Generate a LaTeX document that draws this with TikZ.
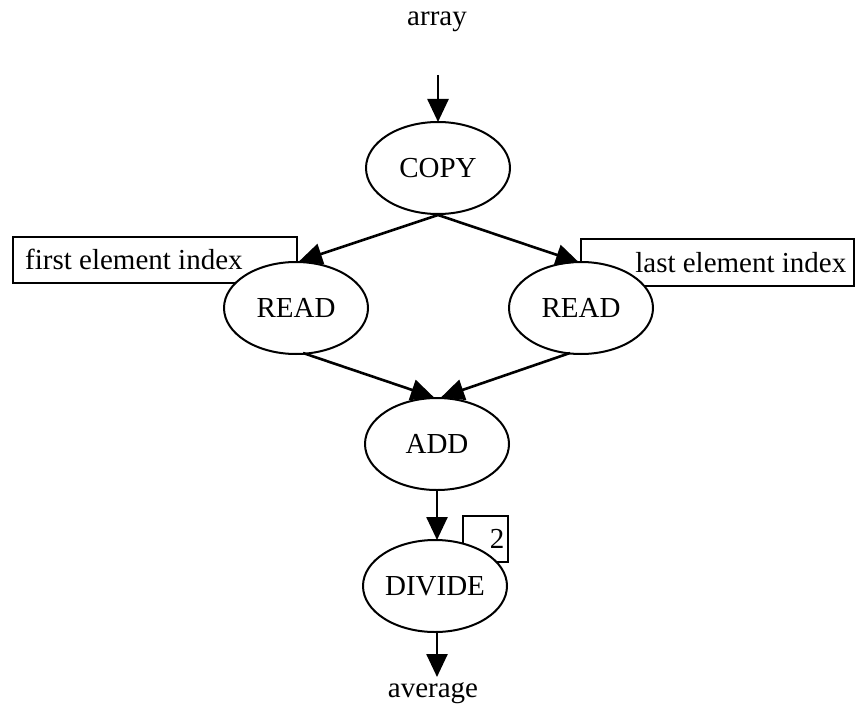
\documentclass[tikz,border=0pt]{standalone}
\usepackage{fontspec}
\setmainfont{Liberation Serif}
\usetikzlibrary{shapes.geometric,arrows.meta,calc}
\begin{document}
\begin{tikzpicture}[x=1pt,y=-1pt,
  every node/.style={font=\fontsize{29}{34}\selectfont},
  proc/.style={ellipse, draw, line width=2pt, fill=white, minimum width=144pt, minimum height=92pt, inner sep=0pt},
  inbox/.style={draw, line width=1.5pt, inner sep=0pt, anchor=north west},
  flow/.style={line width=2.6pt, -{Triangle[length=23pt,width=21pt]}, shorten >=-1pt},
  lbl/.style={inner sep=0pt}
]
\useasboundingbox (0,0) rectangle (856,714);
% constant boxes (behind the ellipses)
\node[inbox, minimum width=284pt, minimum height=46pt] (fbox) at (12,236) {};
\node[inbox, minimum width=273pt, minimum height=47pt] (lbox) at (580,238) {};
\node[inbox, minimum width=45pt, minimum height=46pt] (tbox) at (462,515) {};
% operations
\node[proc] (copy) at (438,168) {COPY};
\node[proc] (readL) at (296,308) {READ};
\node[proc] (readR) at (581,308) {READ};
\node[proc] (add) at (437,444) {ADD};
\node[proc] (divide) at (435,586) {DIVIDE};
% texts of the boxes
\node[lbl, anchor=west] (ftext) at ($(fbox.west)+(13,0)$) {first element index};
\node[lbl, anchor=east] (ltext) at ($(lbox.east)+(-8,0)$) {last element index};
\node[lbl, anchor=east] (ttext) at ($(tbox.east)+(-4,0)$) {2};
% input and output
\node[lbl] (array) at (437,22) {array};
\coordinate (arrin) at (438,75);
\node[lbl] (average) at (433,693) {average};
\coordinate (avgtip) at (437,676);
% connectors
\draw[flow] (arrin) -- (copy.north);
\draw[flow] (copy.south) -- ($(readL.north)+(4,0)$);
\draw[flow] (copy.south) -- ($(readR.north)+(-3,1)$);
\draw[flow] ($(readL.south)+(7,-2)$) -- ($(add.north)+(-4,0)$);
\draw[flow] ($(readR.south)+(-11,-2)$) -- ($(add.north)+(5,0)$);
\draw[flow] (add.south) -- ($(divide.north)+(2,0)$);
\draw[flow] ($(divide.south)+(2,0)$) -- (avgtip);
\end{tikzpicture}
\end{document}
